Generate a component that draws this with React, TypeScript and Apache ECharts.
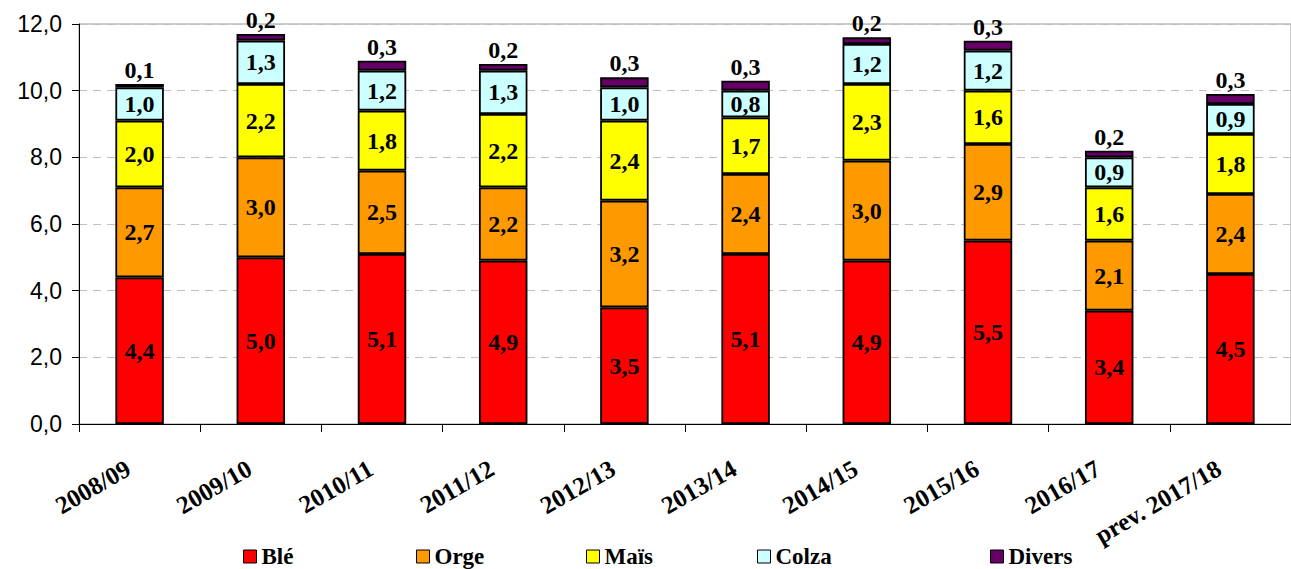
import React, { useEffect, useRef } from "react";
import * as echarts from "echarts";

const categories = ["2008/09", "2009/10", "2010/11", "2011/12", "2012/13", "2013/14", "2014/15", "2015/16", "2016/17", "prev. 2017/18"];
const ble = [4.4, 5.0, 5.1, 4.9, 3.5, 5.1, 4.9, 5.5, 3.4, 4.5];
const orge = [2.7, 3.0, 2.5, 2.2, 3.2, 2.4, 3.0, 2.9, 2.1, 2.4];
const mais = [2.0, 2.2, 1.8, 2.2, 2.4, 1.7, 2.3, 1.6, 1.6, 1.8];
const colza = [1.0, 1.3, 1.2, 1.3, 1.0, 0.8, 1.2, 1.2, 0.9, 0.9];
const divers = [0.1, 0.2, 0.3, 0.2, 0.3, 0.3, 0.2, 0.3, 0.2, 0.3];
const seriesNames = ["Blé", "Orge", "Maïs", "Colza", "Divers"];
const seriesColors = ["#FF0000", "#FF9900", "#FFFF00", "#CCFFFF", "#660066"];
const yTicks = [0, 2, 4, 6, 8, 10, 12];
const legendLefts = [243, 416, 586, 757, 990];

const SERIF = "Liberation Serif";
const SANS = "Liberation Sans";
const fmt = (v: number) => v.toFixed(1).replace(".", ",");

export default function App() {
  const ref = useRef<HTMLDivElement>(null);
  useEffect(() => {
    if (!ref.current) return;
    const chart = echarts.init(ref.current, null, { renderer: "svg" });
    const data = [ble, orge, mais, colza, divers];
    const series = data.map((d, i) => ({
      name: seriesNames[i],
      type: "bar",
      stack: "total",
      barWidth: "40%",
      data: d,
      itemStyle: { color: seriesColors[i], borderColor: "#000", borderWidth: 1.8 },
      label: {
        show: true,
        position: i === 4 ? "top" : "inside",
        distance: 2,
        formatter: (p: any) => fmt(p.value),
        fontFamily: SERIF,
        fontWeight: "bold",
        fontSize: 24,
        color: "#000",
      },
    }));
    chart.setOption({
      animation: false,
      backgroundColor: "#fff",
      textStyle: { fontFamily: SERIF },
      grid: {
        left: 79,
        top: 24,
        width: 1223,
        height: 400,
        show: true,
        borderColor: "#999",
        borderWidth: 1,
        containLabel: false,
      },
      legend: seriesNames.map((n, i) => ({
        data: [n],
        left: legendLefts[i],
        top: 545,
        padding: 0,
        icon: "rect",
        itemWidth: 13,
        itemHeight: 13,
        itemStyle: { borderColor: "#000", borderWidth: 1 },
        textStyle: { fontFamily: SERIF, fontWeight: "bold", fontSize: 23, color: "#000" },
        selectedMode: false,
      })),
      xAxis: {
        type: "category",
        data: categories,
        axisLine: { lineStyle: { color: "#000", width: 1 } },
        axisTick: { show: true, length: 8, lineStyle: { color: "#000" } },
        axisLabel: {
          rotate: 30,
          interval: 0,
          margin: 36,
          padding: [0, 13, 0, 0],
          fontFamily: SERIF,
          fontWeight: "bold",
          fontSize: 25,
          color: "#000",
        },
      },
      yAxis: {
        type: "value",
        min: yTicks[0],
        max: yTicks[yTicks.length - 1],
        interval: 2,
        axisLine: { show: true, lineStyle: { color: "#000", width: 1 } },
        axisTick: { show: true, length: 7, lineStyle: { color: "#000" } },
        axisLabel: {
          margin: 17,
          formatter: (v: number) => fmt(v),
          fontFamily: SANS,
          fontSize: 23,
          color: "#000",
        },
        splitLine: { show: true, lineStyle: { color: "#c0c0c0", type: [8, 6], width: 1 } },
      },
      series,
    });
    return () => chart.dispose();
  }, []);
  return <div ref={ref} style={{ position: "fixed", left: 0, top: 0, width: 1291, height: 569 }} />;
}
